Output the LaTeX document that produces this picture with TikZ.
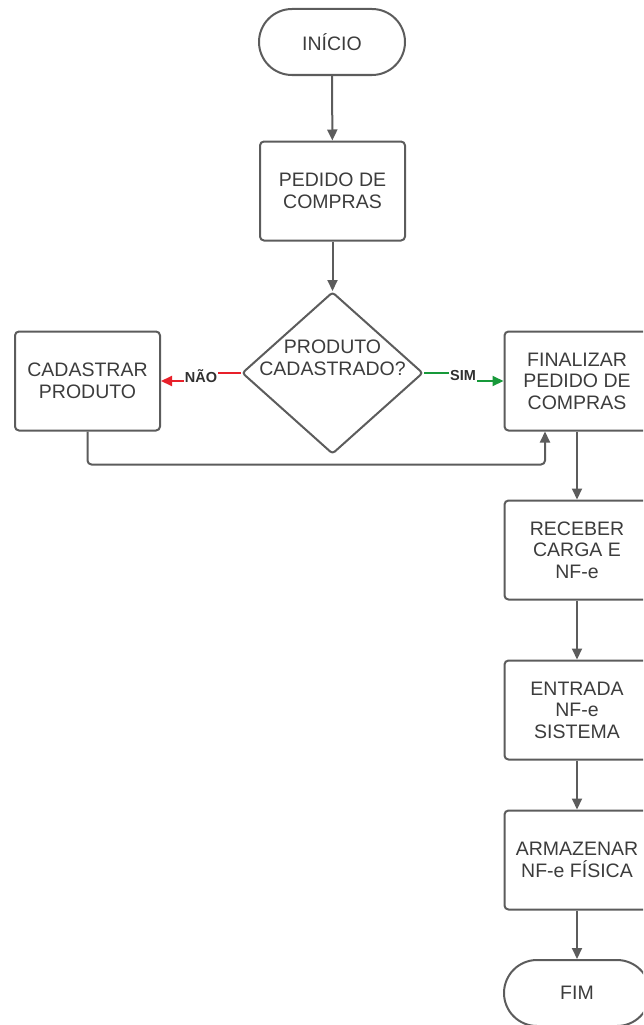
\documentclass[tikz,border=0pt]{standalone}
\usepackage{fontspec}
\setmainfont{Liberation Sans}
\usetikzlibrary{arrows.meta,shapes.geometric}
\definecolor{ln}{HTML}{5C5C5C}
\definecolor{tx}{HTML}{3C3C3C}
\definecolor{nored}{HTML}{E8202A}
\definecolor{simgreen}{HTML}{17993A}
\tikzset{
  base/.style={draw=ln, line width=2pt, text=tx, font=\fontsize{19.5}{21.5}\selectfont, align=center, inner sep=0pt},
  term/.style={base, rounded corners=33pt, minimum width=146pt, minimum height=66pt},
  proc/.style={base, rounded corners=4pt, minimum width=145pt, minimum height=99pt},
  decis/.style={draw=ln, line width=2pt, shape=diamond, rounded corners=3pt, minimum width=181pt, minimum height=162pt, inner sep=0pt},
  arr/.style={draw=ln, line width=2pt, -{Triangle[length=11pt,width=10pt]}},
  lbl/.style={fill=white, text=tx!80!black, font=\fontsize{14.5}{16}\selectfont\bfseries, inner sep=1pt}
}
\begin{document}
\begin{tikzpicture}[x=1pt,y=-1pt]
\useasboundingbox (0,0) rectangle (643,1025);
\clip (0,0) rectangle (643,1025);
\node[term] (inicio) at (332,42) {INÍCIO};
\node[proc] (pedido) at (332.5,191) {PEDIDO DE\\COMPRAS};
\node[decis] (dec) at (332.5,373) {};
\node[text=tx, font=\fontsize{19.5}{21.5}\selectfont, align=center] (dectxt) at (332.5,358) {PRODUTO\\CADASTRADO?};
\node[proc] (cad) at (87.5,381) {CADASTRAR\\PRODUTO};
\node[proc] (fin) at (577,381) {FINALIZAR\\PEDIDO DE\\COMPRAS};
\node[proc] (rec) at (577,550) {RECEBER\\CARGA E\\NF-e};
\node[proc] (ent) at (577,710) {ENTRADA\\NF-e\\SISTEMA};
\node[proc] (arm) at (577,860) {ARMAZENAR\\NF-e FÍSICA};
\node[term] (fim) at (577,993) {FIM};

\draw[arr] (inicio) -- (pedido);
\draw[arr] (pedido.south) -- (dec.north);
\draw[arr, draw=nored, -{Triangle[length=11pt,width=10pt,fill=nored]}] (dec.west) -- ++(-41,0) |- (cad.east);
\node[lbl] (nao) at (201,376) {NÃO};
\draw[arr, draw=simgreen, -{Triangle[length=11pt,width=10pt,fill=simgreen]}] (dec.east) -- ++(40,0) |- (fin.west);
\node[lbl] (sim) at (463,376) {SIM};
\draw[arr, rounded corners=4pt] (cad.south) -- ++(0,33) -| ([xshift=-32pt]fin.south);
\draw[arr] (fin) -- (rec);
\draw[arr] (rec) -- (ent);
\draw[arr] (ent) -- (arm);
\draw[arr] (arm) -- (fim);
\end{tikzpicture}
\end{document}
